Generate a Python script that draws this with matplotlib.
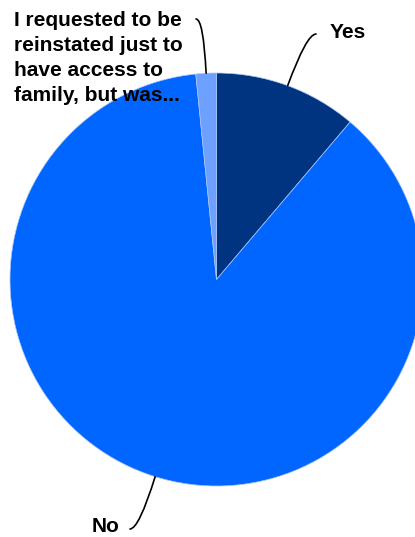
import numpy as np
import matplotlib
matplotlib.use("Agg")
import matplotlib.pyplot as plt

labels = ["Yes", "No", "I requested to be\nreinstated just to\nhave access to\nfamily, but was..."]
values = [11.2, 87.2, 1.6]
colors = ["#003380", "#0066ff", "#6ea0ff"]

W, H = 415, 537
fig = plt.figure(figsize=(W / 100, H / 100), dpi=100)
ax = fig.add_axes([0, 0, 1, 1])

cx, cy, r = 216.5, H - 279.5, 206.5
wedges, _ = ax.pie(values, colors=colors, startangle=90, counterclock=False,
                   center=(cx, cy), radius=r, frame=True,
                   wedgeprops=dict(edgecolor="#a9c6f5", linewidth=0.5))
ax.set_xlim(0, W)
ax.set_ylim(0, H)
ax.set_aspect("equal")
ax.axis("off")

font = dict(family=["Liberation Sans", "DejaVu Sans"], fontweight="bold", fontsize=15, color="black")

# leader end point, text position, alignment
label_specs = [
    ((316, H - 34), (330, H - 33), "left", "center"),
    ((130, H - 529), (119, H - 527), "right", "center"),
    ((196, H - 19), (14, H - 11), "left", "top"),
]

for w, lab, (lend, tpos, ha, va) in zip(wedges, labels, label_specs):
    mid = np.deg2rad((w.theta1 + w.theta2) / 2)
    px, py = cx + r * np.cos(mid), cy + r * np.sin(mid)
    ang = np.rad2deg(mid)
    ax.annotate("", xy=(px, py), xytext=lend,
                arrowprops=dict(arrowstyle="-", color="black", lw=1.2,
                                shrinkA=0, shrinkB=0,
                                connectionstyle=f"angle3,angleA=0,angleB={ang}"))
    ax.text(tpos[0], tpos[1], lab, ha=ha, va=va, linespacing=1.4, **font)

fig.savefig("out.png", dpi=100)
